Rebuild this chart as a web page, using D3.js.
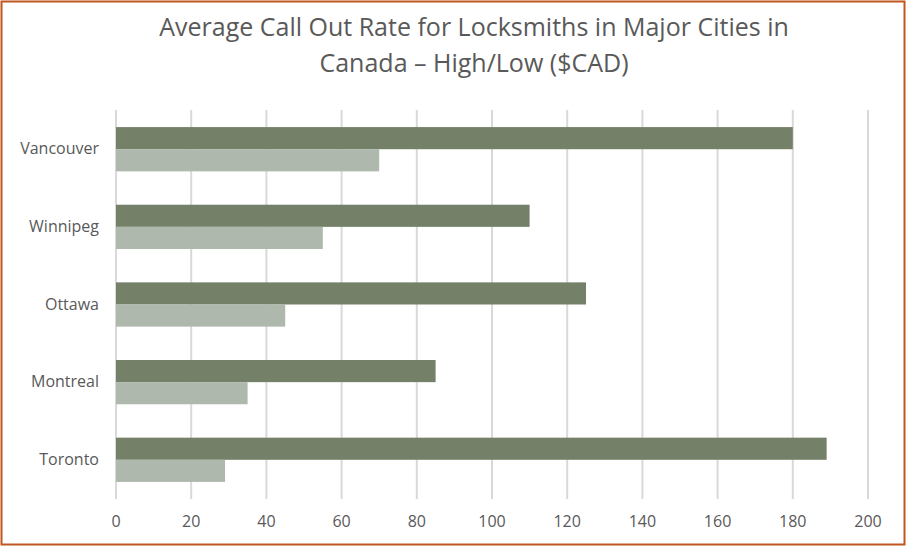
<!DOCTYPE html>
<html><head><meta charset="utf-8">
<script src="https://cdn.jsdelivr.net/npm/d3@7"></script>
<style>body{margin:0;background:#fff}</style>
</head><body>
<svg id="chart" width="906" height="546"></svg>
<script>
// categories and series, top to bottom
const cities = ["Vancouver", "Winnipeg", "Ottawa", "Montreal", "Toronto"];
const highRate = [180, 110, 125, 85, 189];
const lowRate = [70, 55, 45, 35, 29];
const ticks = [0, 20, 40, 60, 80, 100, 120, 140, 160, 180, 200];

const svg = d3.select("#chart");
const font = "'Open Sans', 'Liberation Sans', sans-serif";

svg.append("rect").attr("x", 1.5).attr("y", 1.5).attr("width", 903).attr("height", 543)
  .attr("fill", "#fff").attr("stroke", "#c0561f").attr("stroke-width", 2);

const x = d3.scaleLinear().domain([0, 200]).range([116, 868]);
const y = d3.scaleBand().domain(cities).range([110, 499]).paddingInner(0.43).paddingOuter(0.22);

// gridlines
svg.append("g").selectAll("line").data(ticks).join("line")
  .attr("x1", d => x(d)).attr("x2", d => x(d)).attr("y1", 110).attr("y2", 499)
  .attr("stroke", "#d9d9d9").attr("stroke-width", 2);

const bw = y.bandwidth() / 2;
svg.append("g").selectAll("rect").data(cities).join("rect")
  .attr("x", x(0)).attr("y", d => y(d)).attr("height", bw)
  .attr("width", (d, i) => x(highRate[i]) - x(0)).attr("fill", "#748068");
svg.append("g").selectAll("rect").data(cities).join("rect")
  .attr("x", x(0)).attr("y", d => y(d) + bw).attr("height", bw)
  .attr("width", (d, i) => x(lowRate[i]) - x(0)).attr("fill", "#aeb8ac");

// x axis labels
svg.append("g").selectAll("text").data(ticks).join("text")
  .attr("x", d => x(d)).attr("y", 527).attr("text-anchor", "middle")
  .attr("font-family", font).attr("font-size", 16).attr("fill", "#595959").text(d => d);

// y axis labels
svg.append("g").selectAll("text").data(cities).join("text")
  .attr("x", 99).attr("y", d => y(d) + y.bandwidth() / 2 + 5).attr("text-anchor", "end")
  .attr("font-family", font).attr("font-size", 16).attr("fill", "#595959").text(d => d);

// title
const title = ["Average Call Out Rate for Locksmiths in Major Cities in", "Canada \u2013 High/Low ($CAD)"];
svg.append("g").selectAll("text").data(title).join("text")
  .attr("x", 474).attr("y", (d, i) => 36 + i * 36).attr("text-anchor", "middle")
  .attr("font-family", font).attr("font-size", 25).attr("fill", "#595959").text(d => d);
</script>
</body></html>
